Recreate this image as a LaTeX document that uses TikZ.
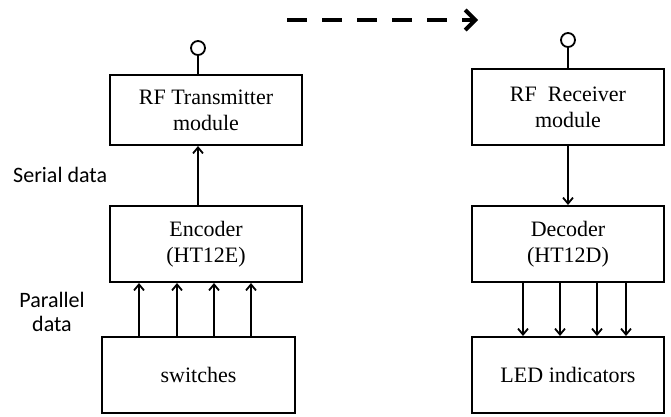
\documentclass[tikz,border=0pt]{standalone}
\usepackage{fontspec}
\setmainfont{Liberation Serif}
\newfontfamily\labelfont{Carlito}
\usetikzlibrary{arrows.meta, positioning}

\begin{document}
\begin{tikzpicture}[
    x=1pt, y=-1pt,
    box/.style={draw, line width=2pt, minimum width=192pt, minimum height=76pt,
                align=center, font=\fontsize{22}{26}\selectfont, inner sep=0pt},
    side/.style={font=\labelfont\fontsize{22}{24}\selectfont, align=center, inner sep=0pt},
    arr/.style={-{Straight Barb[length=6pt, width=10pt, line width=1.8pt]}, line width=2pt},
    ant/.style={draw, circle, line width=1.8pt, minimum size=14pt, inner sep=0pt},
    link/.style={-{Straight Barb[length=10pt, width=20pt, line width=4pt]},
                 line width=4.5pt, dash pattern=on 20pt off 15pt}
]
\useasboundingbox (0,0) rectangle (671,416);

% transmitter side
\node[box, minimum height=70pt] (tx) at (206,110) {RF Transmitter\\module};
\node[box] (enc) at (206,244) {Encoder\\(HT12E)};
\node[box, minimum width=193pt] (sw) at (198.5,375) {switches};
\node[ant] (txant) at (198,48) {};

% receiver side
\node[box] (rx) at (568,107) {RF\ \ Receiver\\module};
\node[box] (dec) at (568,244) {Decoder\\(HT12D)};
\node[box] (led) at (568,375) {LED indicators};
\node[ant] (rxant) at (568,40) {};

% side labels
\node[side, anchor=west] (serial) at (13,175) {Serial data};
\node[side] (parallel) at (52,312) {Parallel\\data};

% wires
\draw[line width=2pt] (txant) -- (txant |- tx.north);
\draw[line width=2pt] (rxant) -- (rxant |- rx.north);
\draw[arr] (enc.north -| 198,0) -- (tx.south -| 198,0);
\draw[arr] (rx.south) -- (dec.north);
\foreach \x in {139,177,214,251}
    \draw[arr] (sw.north -| \x,0) -- (enc.south -| \x,0);
\foreach \x in {523,560,597,626}
    \draw[arr] (dec.south -| \x,0) -- (led.north -| \x,0);

% radio link
\coordinate (linkA) at (287,20);
\coordinate (linkB) at (478,20);
\draw[link] (linkA) -- (linkB);
\end{tikzpicture}
\end{document}
